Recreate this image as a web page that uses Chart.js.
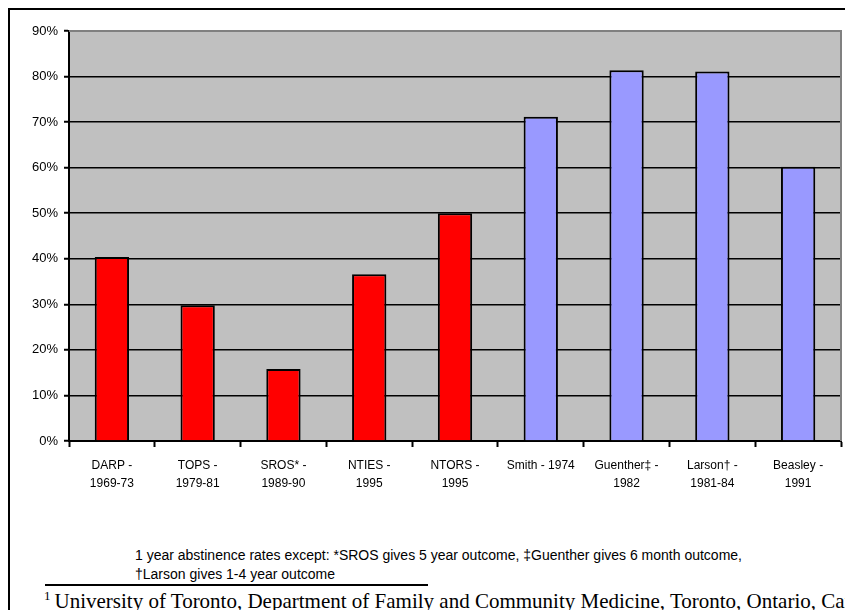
<!DOCTYPE html>
<html>
<head>
<meta charset="utf-8">
<script src="https://cdn.jsdelivr.net/npm/chart.js@4"></script>
<style>
    body { margin: 0; width: 845px; height: 610px; overflow: hidden; background: #fff; position: relative; }
    #frame { position: absolute; left: 8px; top: 8px; width: 900px; height: 700px; border-top: 2px solid #000; border-left: 2px solid #000; }
    #chartBox { position: absolute; left: 0; top: 0; width: 845px; height: 501px; }
    .note { position: absolute; left: 135px; font: 14px "Liberation Sans", Arial, sans-serif; color: #000; white-space: nowrap; }
    #rule { position: absolute; left: 45px; top: 584px; width: 383px; height: 2px; background: #000; }
    #affil { position: absolute; left: 44px; top: 588px; font: 21px "Liberation Serif", "Times New Roman", serif; white-space: nowrap; color: #000; }
    #affil sup { font-size: 13px; vertical-align: 8px; margin-right: 4px; }
</style>
</head>
<body>
<div id="frame"></div>
<div id="chartBox"><canvas id="abstinenceChart"></canvas></div>
<div class="note" style="top:547px">1 year abstinence rates except: *SROS gives 5 year outcome, ‡Guenther gives 6 month outcome,</div>
<div class="note" style="top:566px">†Larson gives 1-4 year outcome</div>
<div id="rule"></div>
<div id="affil"><sup>1</sup>University of Toronto, Department of Family and Community Medicine, Toronto, Ontario, Canada</div>
<script>
    const studies = [
        ['DARP -', '1969-73'],
        ['TOPS -', '1979-81'],
        ['SROS* -', '1989-90'],
        ['NTIES -', '1995'],
        ['NTORS -', '1995'],
        'Smith - 1974',
        ['Guenther‡ -', '1982'],
        ['Larson† -', '1981-84'],
        ['Beasley -', '1991']
    ];
    const abstinenceRates = [40.4, 29.8, 15.8, 36.6, 50, 71.2, 81.4, 81.1, 60.2];
    const studyGroups = ['national', 'national', 'national', 'national', 'national', 'single', 'single', 'single', 'single'];
    const yTicks = [0, 10, 20, 30, 40, 50, 60, 70, 80, 90];

    const groupColors = { national: '#FF0000', single: '#9999FF' };

    // grey plot background plus the grey top/right edge
    const plotFrame = {
        id: 'plotFrame',
        beforeDraw: function (chart) {
            const a = chart.chartArea;
            const ctx = chart.ctx;
            ctx.save();
            ctx.fillStyle = '#C0C0C0';
            ctx.fillRect(a.left, a.top, a.right - a.left, a.bottom - a.top);
            ctx.restore();
        },
        afterDraw: function (chart) {
            const a = chart.chartArea;
            const ctx = chart.ctx;
            ctx.save();
            ctx.strokeStyle = '#808080';
            ctx.lineWidth = 2;
            ctx.beginPath();
            ctx.moveTo(a.left, a.top);
            ctx.lineTo(a.right, a.top);
            ctx.lineTo(a.right, a.bottom);
            ctx.stroke();
            ctx.restore();
        }
    };

    new Chart(document.getElementById('abstinenceChart'), {
        type: 'bar',
        data: {
            labels: studies,
            datasets: [{
                data: abstinenceRates,
                backgroundColor: studyGroups.map(function (g) { return groupColors[g]; }),
                borderColor: '#000',
                borderWidth: 2,
                borderSkipped: 'bottom',
                categoryPercentage: 1,
                barPercentage: 0.4
            }]
        },
        options: {
            responsive: true,
            maintainAspectRatio: false,
            animation: false,
            layout: { padding: { left: 0, top: 31, right: 4, bottom: 0 } },
            plugins: {
                legend: { display: false },
                tooltip: { enabled: false }
            },
            scales: {
                x: {
                    grid: { drawOnChartArea: false, drawTicks: true, tickLength: 6, tickColor: '#000', tickWidth: 2 },
                    border: { color: '#000', width: 2 },
                    ticks: {
                        color: '#000',
                        font: { family: 'Liberation Sans', size: 12, lineHeight: 1.5 },
                        padding: 10,
                        maxRotation: 0,
                        autoSkip: false
                    },
                    afterFit: function (scale) { scale.height = 60; }
                },
                y: {
                    min: 0,
                    max: 90,
                    afterBuildTicks: function (scale) {
                        scale.ticks = yTicks.map(function (v) { return { value: v }; });
                    },
                    grid: {
                        color: function (c) { return c.tick && c.tick.value === 90 ? 'rgba(0,0,0,0)' : '#000'; },
                        lineWidth: 1.5,
                        tickLength: 5,
                        tickColor: '#000',
                        tickWidth: 2
                    },
                    border: { color: '#000', width: 2 },
                    ticks: {
                        color: '#000',
                        font: { family: 'Liberation Sans', size: 13 },
                        padding: 6,
                        callback: function (v) { return v + '%'; }
                    },
                    afterFit: function (scale) { scale.width = 69; }
                }
            }
        },
        plugins: [plotFrame]
    });
</script>
</body>
</html>
